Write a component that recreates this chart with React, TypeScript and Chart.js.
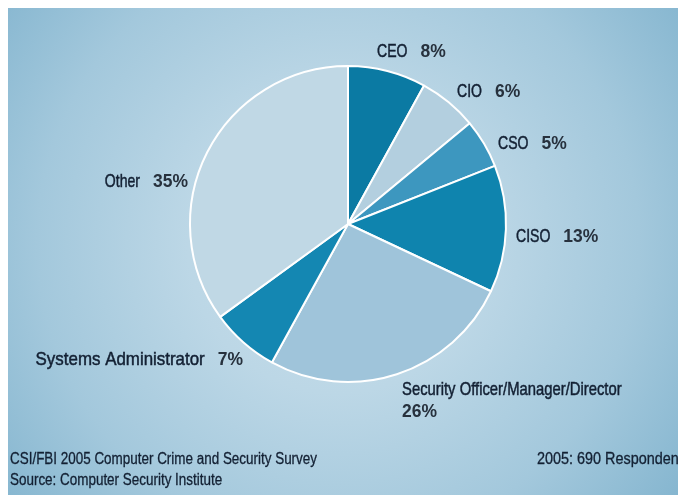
import React, { useEffect, useRef } from "react";
import { Chart, registerables } from "chart.js";

Chart.register(...registerables);

// ---- data ----
const categories = [
  "CEO",
  "CIO",
  "CSO",
  "CISO",
  "Security Officer/Manager/Director",
  "Systems Administrator",
  "Other",
];
const shares = [8, 6, 5, 13, 26, 7, 35];
const footerLeft = [
  "CSI/FBI 2005 Computer Crime and Security Survey",
  "Source: Computer Security Institute",
];
const footerRight = "2005: 690 Respondents";

// ---- styles / layout ----
const sliceColors = ["#0b7aa3", "#b3cfdf", "#3d97bf", "#0f84ae", "#9fc4da", "#1487b2", "#c0d8e5"];
// label anchor offsets from the pie centre, plus horizontal squeeze of the name text
const labelLayout = [
  { dx: 29, dy: -172, align: "left", stacked: false, sx: 0.74 },
  { dx: 109, dy: -132, align: "left", stacked: false, sx: 0.74 },
  { dx: 150, dy: -80, align: "left", stacked: false, sx: 0.74 },
  { dx: 168, dy: 13, align: "left", stacked: false, sx: 0.74 },
  { dx: 54, dy: 166, align: "left", stacked: true, sx: 0.78 },
  { dx: -105, dy: 136, align: "right", stacked: false, sx: 0.89 },
  { dx: -160, dy: -42, align: "right", stacked: false, sx: 0.74 },
];

const W = 684;
const H = 487;
const FONT = "'Liberation Sans', Arial, sans-serif";
const PCT_SX = 0.92;

function drawScaled(
  ctx: CanvasRenderingContext2D,
  text: string,
  x: number,
  y: number,
  font: string,
  color: string,
  align: CanvasTextAlign,
  sx: number,
  thicken = 0
) {
  ctx.save();
  ctx.font = font;
  ctx.fillStyle = color;
  ctx.strokeStyle = color;
  ctx.textAlign = align;
  ctx.textBaseline = "middle";
  ctx.translate(x, y);
  ctx.scale(sx, 1);
  ctx.fillText(text, 0, 0);
  if (thicken > 0) {
    ctx.lineWidth = thicken;
    ctx.strokeText(text, 0, 0);
  }
  const w = ctx.measureText(text).width * sx;
  ctx.restore();
  return w;
}

const backgroundPlugin = {
  id: "bgGradient",
  beforeDraw(chart: any) {
    const ctx: CanvasRenderingContext2D = chart.ctx;
    const g = ctx.createRadialGradient(330, 235, 0, 330, 235, 430);
    g.addColorStop(0, "#c9dfea");
    g.addColorStop(0.35, "#bcd7e6");
    g.addColorStop(0.7, "#a3c8dc");
    g.addColorStop(1, "#84b5cf");
    ctx.save();
    ctx.fillStyle = g;
    ctx.fillRect(0, 0, chart.width, chart.height);
    ctx.restore();
  },
};

const labelPlugin = {
  id: "sliceLabels",
  afterDraw(chart: any) {
    const ctx: CanvasRenderingContext2D = chart.ctx;
    const meta = chart.getDatasetMeta(0);
    const arc0 = meta.data[0];
    const cx = arc0.x;
    const cy = arc0.y;
    const nameFont = `19px ${FONT}`;
    const pctFont = `bold 19px ${FONT}`;
    const nameColor = "#132033";
    const pctColor = "#27313d";
    const gap = 13;
    categories.forEach((name, i) => {
      const lay = labelLayout[i];
      const pct = `${shares[i]}%`;
      const x = cx + lay.dx;
      const y = cy + lay.dy;
      if (lay.stacked) {
        drawScaled(ctx, name, x, y, nameFont, nameColor, "left", lay.sx, 0.5);
        drawScaled(ctx, pct, x, y + 22, pctFont, pctColor, "left", PCT_SX);
      } else if (lay.align === "left") {
        const w = drawScaled(ctx, name, x, y, nameFont, nameColor, "left", lay.sx, 0.5);
        drawScaled(ctx, pct, x + w + gap, y, pctFont, pctColor, "left", PCT_SX);
      } else {
        const w = drawScaled(ctx, pct, x, y, pctFont, pctColor, "right", PCT_SX);
        drawScaled(ctx, name, x - w - gap, y, nameFont, nameColor, "right", lay.sx, 0.5);
      }
    });
    const footFont = `16px ${FONT}`;
    drawScaled(ctx, footerLeft[0], 2, 452, footFont, "#132033", "left", 0.84, 0.3);
    drawScaled(ctx, footerLeft[1], 2, 473, footFont, "#132033", "left", 0.84, 0.3);
    drawScaled(ctx, footerRight, 529, 452, footFont, "#132033", "left", 0.9, 0.3);
  },
};

export default function App() {
  const ref = useRef<HTMLCanvasElement>(null);
  useEffect(() => {
    if (!ref.current) return;
    const chart = new Chart(ref.current, {
      type: "pie",
      data: {
        labels: categories,
        datasets: [
          {
            data: shares,
            backgroundColor: sliceColors,
            borderColor: "#ffffff",
            borderWidth: 2,
            hoverOffset: 0,
            offset: 0,
          },
        ],
      },
      options: {
        animation: false,
        responsive: false,
        devicePixelRatio: 1,
        layout: { padding: { left: 181, right: W - 499, top: 57, bottom: 112 } },
        plugins: {
          legend: { display: false },
          tooltip: { enabled: false },
          title: { display: false },
        },
      },
      plugins: [backgroundPlugin, labelPlugin],
    });
    return () => chart.destroy();
  }, []);
  return (
    <canvas
      ref={ref}
      width={W}
      height={H}
      style={{ display: "block", position: "fixed", left: 8, top: 8, width: W, height: H }}
    />
  );
}
